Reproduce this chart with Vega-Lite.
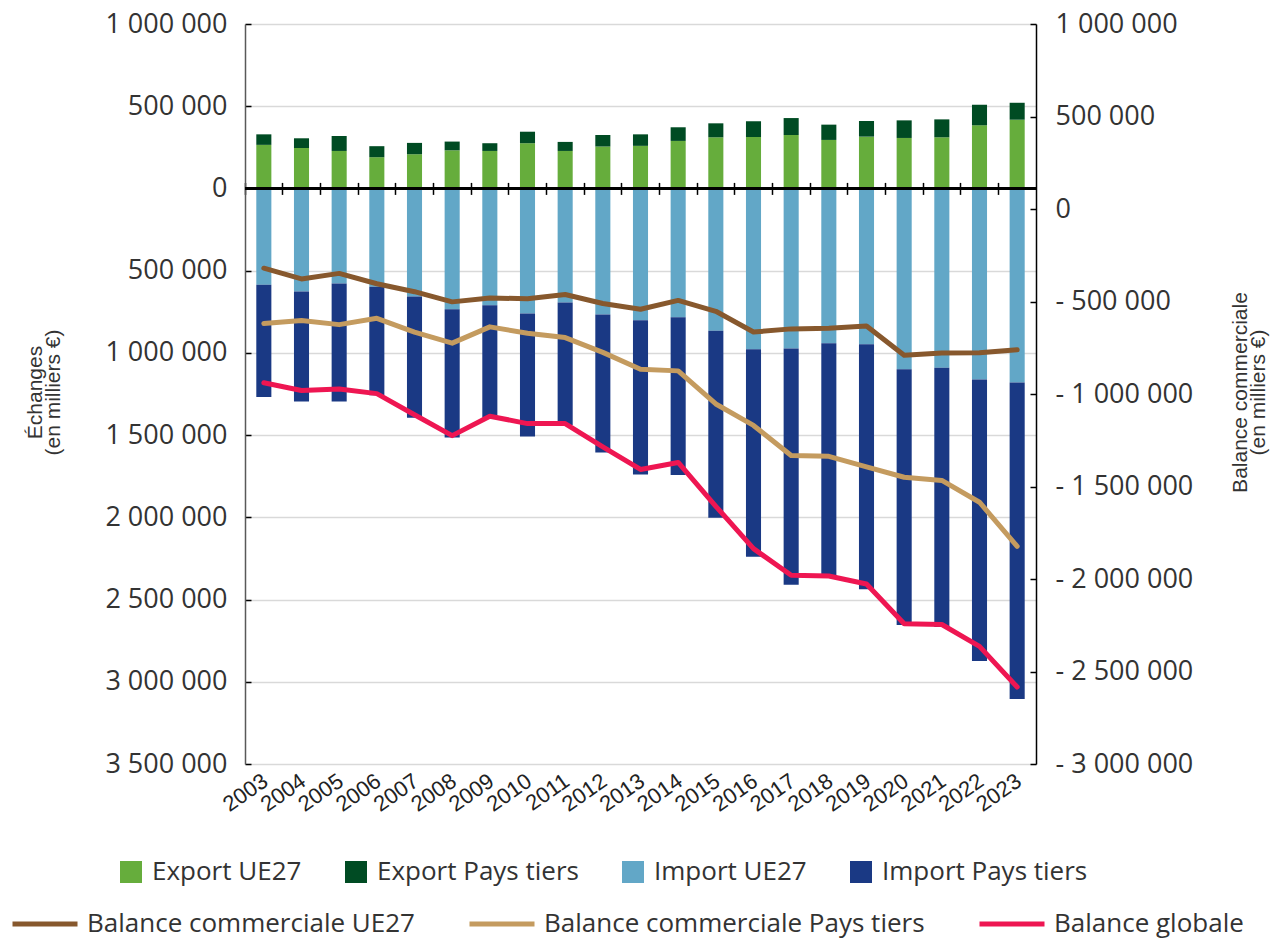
{
  "$schema": "https://vega.github.io/schema/vega-lite/v6.json",
  "width": 791,
  "height": 740,
  "autosize": {"type": "none"},
  "padding": {"left": 245, "top": 24, "right": 235, "bottom": 176},
  "background": "white",
  "config": {"view": {"stroke": null}},
  "datasets": {
    "echanges": [
      {"annee": "2003", "serie": "Export UE27", "valeur": 265000},
      {"annee": "2003", "serie": "Export Pays tiers", "valeur": 64000},
      {"annee": "2003", "serie": "Import UE27", "valeur": -586000},
      {"annee": "2003", "serie": "Import Pays tiers", "valeur": -683000},
      {"annee": "2004", "serie": "Export UE27", "valeur": 246000},
      {"annee": "2004", "serie": "Export Pays tiers", "valeur": 59000},
      {"annee": "2004", "serie": "Import UE27", "valeur": -626000},
      {"annee": "2004", "serie": "Import Pays tiers", "valeur": -669000},
      {"annee": "2005", "serie": "Export UE27", "valeur": 228000},
      {"annee": "2005", "serie": "Export Pays tiers", "valeur": 91000},
      {"annee": "2005", "serie": "Import UE27", "valeur": -578000},
      {"annee": "2005", "serie": "Import Pays tiers", "valeur": -717000},
      {"annee": "2006", "serie": "Export UE27", "valeur": 190000},
      {"annee": "2006", "serie": "Export Pays tiers", "valeur": 67000},
      {"annee": "2006", "serie": "Import UE27", "valeur": -598000},
      {"annee": "2006", "serie": "Import Pays tiers", "valeur": -659000},
      {"annee": "2007", "serie": "Export UE27", "valeur": 208000},
      {"annee": "2007", "serie": "Export Pays tiers", "valeur": 69000},
      {"annee": "2007", "serie": "Import UE27", "valeur": -657000},
      {"annee": "2007", "serie": "Import Pays tiers", "valeur": -737000},
      {"annee": "2008", "serie": "Export UE27", "valeur": 232000},
      {"annee": "2008", "serie": "Export Pays tiers", "valeur": 53000},
      {"annee": "2008", "serie": "Import UE27", "valeur": -735000},
      {"annee": "2008", "serie": "Import Pays tiers", "valeur": -780000},
      {"annee": "2009", "serie": "Export UE27", "valeur": 228000},
      {"annee": "2009", "serie": "Export Pays tiers", "valeur": 47000},
      {"annee": "2009", "serie": "Import UE27", "valeur": -711000},
      {"annee": "2009", "serie": "Import Pays tiers", "valeur": -683000},
      {"annee": "2010", "serie": "Export UE27", "valeur": 275000},
      {"annee": "2010", "serie": "Export Pays tiers", "valeur": 70000},
      {"annee": "2010", "serie": "Import UE27", "valeur": -760000},
      {"annee": "2010", "serie": "Import Pays tiers", "valeur": -749000},
      {"annee": "2011", "serie": "Export UE27", "valeur": 228000},
      {"annee": "2011", "serie": "Export Pays tiers", "valeur": 55000},
      {"annee": "2011", "serie": "Import UE27", "valeur": -693000},
      {"annee": "2011", "serie": "Import Pays tiers", "valeur": -745000},
      {"annee": "2012", "serie": "Export UE27", "valeur": 255000},
      {"annee": "2012", "serie": "Export Pays tiers", "valeur": 70000},
      {"annee": "2012", "serie": "Import UE27", "valeur": -766000},
      {"annee": "2012", "serie": "Import Pays tiers", "valeur": -840000},
      {"annee": "2013", "serie": "Export UE27", "valeur": 259000},
      {"annee": "2013", "serie": "Export Pays tiers", "valeur": 70000},
      {"annee": "2013", "serie": "Import UE27", "valeur": -802000},
      {"annee": "2013", "serie": "Import Pays tiers", "valeur": -937000},
      {"annee": "2014", "serie": "Export UE27", "valeur": 289000},
      {"annee": "2014", "serie": "Export Pays tiers", "valeur": 83000},
      {"annee": "2014", "serie": "Import UE27", "valeur": -784000},
      {"annee": "2014", "serie": "Import Pays tiers", "valeur": -959000},
      {"annee": "2015", "serie": "Export UE27", "valeur": 311000},
      {"annee": "2015", "serie": "Export Pays tiers", "valeur": 85000},
      {"annee": "2015", "serie": "Import UE27", "valeur": -865000},
      {"annee": "2015", "serie": "Import Pays tiers", "valeur": -1137000},
      {"annee": "2016", "serie": "Export UE27", "valeur": 313000},
      {"annee": "2016", "serie": "Export Pays tiers", "valeur": 95000},
      {"annee": "2016", "serie": "Import UE27", "valeur": -978000},
      {"annee": "2016", "serie": "Import Pays tiers", "valeur": -1262000},
      {"annee": "2017", "serie": "Export UE27", "valeur": 325000},
      {"annee": "2017", "serie": "Export Pays tiers", "valeur": 103000},
      {"annee": "2017", "serie": "Import UE27", "valeur": -974000},
      {"annee": "2017", "serie": "Import Pays tiers", "valeur": -1436000},
      {"annee": "2018", "serie": "Export UE27", "valeur": 295000},
      {"annee": "2018", "serie": "Export Pays tiers", "valeur": 93000},
      {"annee": "2018", "serie": "Import UE27", "valeur": -941000},
      {"annee": "2018", "serie": "Import Pays tiers", "valeur": -1420000},
      {"annee": "2019", "serie": "Export UE27", "valeur": 315000},
      {"annee": "2019", "serie": "Export Pays tiers", "valeur": 95000},
      {"annee": "2019", "serie": "Import UE27", "valeur": -947000},
      {"annee": "2019", "serie": "Import Pays tiers", "valeur": -1491000},
      {"annee": "2020", "serie": "Export UE27", "valeur": 307000},
      {"annee": "2020", "serie": "Export Pays tiers", "valeur": 107000},
      {"annee": "2020", "serie": "Import UE27", "valeur": -1099000},
      {"annee": "2020", "serie": "Import Pays tiers", "valeur": -1556000},
      {"annee": "2021", "serie": "Export UE27", "valeur": 311000},
      {"annee": "2021", "serie": "Export Pays tiers", "valeur": 109000},
      {"annee": "2021", "serie": "Import UE27", "valeur": -1091000},
      {"annee": "2021", "serie": "Import Pays tiers", "valeur": -1576000},
      {"annee": "2022", "serie": "Export UE27", "valeur": 384000},
      {"annee": "2022", "serie": "Export Pays tiers", "valeur": 125000},
      {"annee": "2022", "serie": "Import UE27", "valeur": -1162000},
      {"annee": "2022", "serie": "Import Pays tiers", "valeur": -1711000},
      {"annee": "2023", "serie": "Export UE27", "valeur": 418000},
      {"annee": "2023", "serie": "Export Pays tiers", "valeur": 103000},
      {"annee": "2023", "serie": "Import UE27", "valeur": -1180000},
      {"annee": "2023", "serie": "Import Pays tiers", "valeur": -1925000}
    ],
    "balances": [
      {"annee": "2003", "serie": "Balance commerciale UE27", "valeur": -320000},
      {"annee": "2004", "serie": "Balance commerciale UE27", "valeur": -378000},
      {"annee": "2005", "serie": "Balance commerciale UE27", "valeur": -348000},
      {"annee": "2006", "serie": "Balance commerciale UE27", "valeur": -404000},
      {"annee": "2007", "serie": "Balance commerciale UE27", "valeur": -447000},
      {"annee": "2008", "serie": "Balance commerciale UE27", "valeur": -502000},
      {"annee": "2009", "serie": "Balance commerciale UE27", "valeur": -481000},
      {"annee": "2010", "serie": "Balance commerciale UE27", "valeur": -485000},
      {"annee": "2011", "serie": "Balance commerciale UE27", "valeur": -462000},
      {"annee": "2012", "serie": "Balance commerciale UE27", "valeur": -511000},
      {"annee": "2013", "serie": "Balance commerciale UE27", "valeur": -542000},
      {"annee": "2014", "serie": "Balance commerciale UE27", "valeur": -494000},
      {"annee": "2015", "serie": "Balance commerciale UE27", "valeur": -553000},
      {"annee": "2016", "serie": "Balance commerciale UE27", "valeur": -665000},
      {"annee": "2017", "serie": "Balance commerciale UE27", "valeur": -648000},
      {"annee": "2018", "serie": "Balance commerciale UE27", "valeur": -644000},
      {"annee": "2019", "serie": "Balance commerciale UE27", "valeur": -632000},
      {"annee": "2020", "serie": "Balance commerciale UE27", "valeur": -791000},
      {"annee": "2021", "serie": "Balance commerciale UE27", "valeur": -778000},
      {"annee": "2022", "serie": "Balance commerciale UE27", "valeur": -777000},
      {"annee": "2023", "serie": "Balance commerciale UE27", "valeur": -761000},
      {"annee": "2003", "serie": "Balance commerciale Pays tiers", "valeur": -619000},
      {"annee": "2004", "serie": "Balance commerciale Pays tiers", "valeur": -603000},
      {"annee": "2005", "serie": "Balance commerciale Pays tiers", "valeur": -625000},
      {"annee": "2006", "serie": "Balance commerciale Pays tiers", "valeur": -591000},
      {"annee": "2007", "serie": "Balance commerciale Pays tiers", "valeur": -666000},
      {"annee": "2008", "serie": "Balance commerciale Pays tiers", "valeur": -725000},
      {"annee": "2009", "serie": "Balance commerciale Pays tiers", "valeur": -637000},
      {"annee": "2010", "serie": "Balance commerciale Pays tiers", "valeur": -672000},
      {"annee": "2011", "serie": "Balance commerciale Pays tiers", "valeur": -695000},
      {"annee": "2012", "serie": "Balance commerciale Pays tiers", "valeur": -775000},
      {"annee": "2013", "serie": "Balance commerciale Pays tiers", "valeur": -866000},
      {"annee": "2014", "serie": "Balance commerciale Pays tiers", "valeur": -875000},
      {"annee": "2015", "serie": "Balance commerciale Pays tiers", "valeur": -1054000},
      {"annee": "2016", "serie": "Balance commerciale Pays tiers", "valeur": -1170000},
      {"annee": "2017", "serie": "Balance commerciale Pays tiers", "valeur": -1332000},
      {"annee": "2018", "serie": "Balance commerciale Pays tiers", "valeur": -1337000},
      {"annee": "2019", "serie": "Balance commerciale Pays tiers", "valeur": -1394000},
      {"annee": "2020", "serie": "Balance commerciale Pays tiers", "valeur": -1450000},
      {"annee": "2021", "serie": "Balance commerciale Pays tiers", "valeur": -1467000},
      {"annee": "2022", "serie": "Balance commerciale Pays tiers", "valeur": -1585000},
      {"annee": "2023", "serie": "Balance commerciale Pays tiers", "valeur": -1823000},
      {"annee": "2003", "serie": "Balance globale", "valeur": -939000},
      {"annee": "2004", "serie": "Balance globale", "valeur": -981000},
      {"annee": "2005", "serie": "Balance globale", "valeur": -973000},
      {"annee": "2006", "serie": "Balance globale", "valeur": -998000},
      {"annee": "2007", "serie": "Balance globale", "valeur": -1112000},
      {"annee": "2008", "serie": "Balance globale", "valeur": -1225000},
      {"annee": "2009", "serie": "Balance globale", "valeur": -1120000},
      {"annee": "2010", "serie": "Balance globale", "valeur": -1160000},
      {"annee": "2011", "serie": "Balance globale", "valeur": -1160000},
      {"annee": "2012", "serie": "Balance globale", "valeur": -1286000},
      {"annee": "2013", "serie": "Balance globale", "valeur": -1408000},
      {"annee": "2014", "serie": "Balance globale", "valeur": -1370000},
      {"annee": "2015", "serie": "Balance globale", "valeur": -1607000},
      {"annee": "2016", "serie": "Balance globale", "valeur": -1836000},
      {"annee": "2017", "serie": "Balance globale", "valeur": -1980000},
      {"annee": "2018", "serie": "Balance globale", "valeur": -1984000},
      {"annee": "2019", "serie": "Balance globale", "valeur": -2027000},
      {"annee": "2020", "serie": "Balance globale", "valeur": -2242000},
      {"annee": "2021", "serie": "Balance globale", "valeur": -2246000},
      {"annee": "2022", "serie": "Balance globale", "valeur": -2364000},
      {"annee": "2023", "serie": "Balance globale", "valeur": -2584000}
    ]
  },
  "layer": [
    {
      "data": {"name": "echanges"},
      "layer": [
        {
          "mark": {"type": "bar", "width": {"band": 0.4}},
          "encoding": {
            "x": {
              "field": "annee", "type": "ordinal",
              "scale": {"paddingInner": 0, "paddingOuter": 0},
              "axis": {
                "orient": "bottom", "ticks": false, "domain": false, "grid": false,
                "labelAngle": -35, "labelAlign": "right", "labelBaseline": "top",
                "labelPadding": 6, "labelOffset": -4, "labelFont": "Liberation Sans", "labelFontSize": 22,
                "labelColor": "#222222", "title": null
              }
            },
            "y": {
              "field": "valeur", "type": "quantitative", "stack": "zero",
              "scale": {"domain": [-3500000, 1000000], "nice": false},
              "axis": {
                "orient": "left",
                "values": [-3500000, -3000000, -2500000, -2000000, -1500000, -1000000, -500000, 0, 500000, 1000000],
                "labelExpr": "replace(format(abs(datum.value), ',d'), regexp(',', 'g'), ' ')",
                "grid": true, "gridColor": "#d9d9d9", "gridWidth": 1.5,
                "domainColor": "#595959", "domainWidth": 1.5,
                "tickColor": "#000000", "tickSize": -6, "tickWidth": 1.5,
                "labelPadding": 24, "labelFont": "Open Sans", "labelFontSize": 27, "labelColor": "#333333",
                "title": ["Échanges", "(en milliers €)"],
                "titleFont": "Liberation Sans",
                "titleFontSize": 21, "titleFontWeight": "normal", "titleColor": "#333333", "titleLineHeight": 18,
                "titleAngle": -90, "titleX": -210, "titleY": 368, "titleAlign": "center", "titleBaseline": "middle"
              }
            },
            "color": {
              "field": "serie", "type": "nominal",
              "scale": {
                "domain": ["Export UE27", "Export Pays tiers", "Import UE27", "Import Pays tiers"],
                "range": ["#66ad3c", "#004b23", "#62a7c7", "#1a3984"]
              },
              "legend": {
                "orient": "none", "legendX": -127, "legendY": 835,
                "direction": "horizontal", "columns": 4, "title": null,
                "symbolType": "square", "symbolSize": 484, "symbolStrokeWidth": 0,
                "labelFont": "Open Sans", "labelFontSize": 26, "labelColor": "#333333",
                "labelLimit": 500, "labelOffset": 8, "columnPadding": 41
              }
            },
            "order": {"field": "serie", "sort": "descending"}
          }
        },
        {
          "mark": {"type": "rule", "color": "#000000", "strokeWidth": 2},
          "encoding": {"y": {"datum": 0}}
        }
      ]
    },
    {
      "data": {"name": "balances"},
      "mark": {"type": "line", "strokeWidth": 5, "strokeCap": "round", "strokeJoin": "round"},
      "encoding": {
        "x": {
          "field": "annee", "type": "ordinal",
          "axis": {
            "orient": "top", "offset": -170.4, "tickSize": 12, "tickWidth": 1.5, "tickColor": "#000000",
            "labels": false, "domain": false, "grid": false, "bandPosition": 0, "title": null
          }
        },
        "y": {
          "field": "valeur", "type": "quantitative",
          "scale": {"domain": [-3000000, 1000000], "nice": false},
          "axis": {
            "orient": "right",
            "values": [-3000000, -2500000, -2000000, -1500000, -1000000, -500000, 0, 500000, 1000000],
            "labelExpr": "(datum.value < 0 ? '- ' : '') + replace(format(abs(datum.value), ',d'), regexp(',', 'g'), ' ')",
            "grid": false, "domainColor": "#000000", "domainWidth": 1.5,
            "tickColor": "#000000", "tickSize": -6, "tickWidth": 1.5,
            "labelPadding": 25, "labelFont": "Open Sans", "labelFontSize": 27, "labelColor": "#333333",
            "title": ["Balance commerciale", "(en milliers €)"],
            "titleFont": "Liberation Sans",
            "titleFontSize": 21, "titleFontWeight": "normal", "titleColor": "#333333", "titleLineHeight": 18,
            "titleAngle": -90, "titleX": 204, "titleY": 368, "titleAlign": "center", "titleBaseline": "middle"
          }
        },
        "stroke": {
          "field": "serie", "type": "nominal",
          "scale": {
            "domain": ["Balance commerciale UE27", "Balance commerciale Pays tiers", "Balance globale"],
            "range": ["#87582d", "#c49b5f", "#ee1652"]
          },
          "legend": {
            "orient": "none", "legendX": -235, "legendY": 865,
            "direction": "horizontal", "columns": 3, "title": null,
            "symbolType": "stroke", "symbolSize": 4225, "symbolStrokeWidth": 5,
            "labelFont": "Open Sans", "labelFontSize": 26, "labelColor": "#333333",
            "labelLimit": 600, "labelOffset": 7, "columnPadding": 44
          }
        }
      }
    }
  ],
  "resolve": {"scale": {"y": "independent"}, "axis": {"x": "independent", "y": "independent"}}
}
